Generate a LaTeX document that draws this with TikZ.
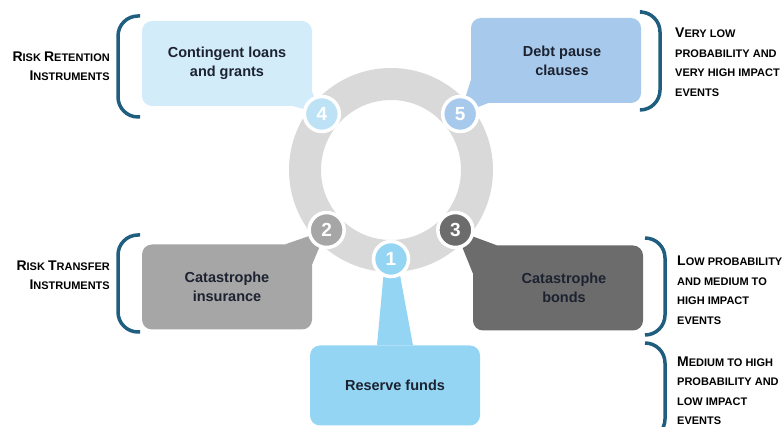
\documentclass[tikz,border=0pt]{standalone}
\usepackage{fontspec}
\setmainfont{Liberation Sans}
\usepackage{tikz}
\definecolor{MyPale}{HTML}{D3ECFA}
\definecolor{MyPaleNum}{HTML}{BDE2F6}
\definecolor{MyBlue}{HTML}{A7C9EC}
\definecolor{MySky}{HTML}{95D5F4}
\definecolor{MyGrey}{HTML}{A6A6A6}
\definecolor{MyDark}{HTML}{6C6C6C}
\definecolor{MyRing}{HTML}{D9D9D9}
\definecolor{MyTeal}{HTML}{1F5E7E}
\definecolor{MyInk}{HTML}{1C2230}
\usetikzlibrary{calc,positioning}
\newcommand\initcap[1]{{\fontsize{14}{19}\selectfont #1}}
\tikzset{%
  card/.style={rectangle, rounded corners=10pt, fill=#1, minimum width=170pt, minimum height=85pt,
    align=center, text=MyInk, font=\fontsize{14.5}{19}\selectfont\bfseries},
  num/.style={circle, fill=#1, draw=white, line width=3.5pt, minimum size=35pt, inner sep=0pt,
    text=white, font=\fontsize{19}{19}\selectfont\bfseries},
  bracket/.style={draw=MyTeal, line width=3.5pt, rounded corners=20pt},
  group/.style={align=#1, inner sep=0pt, text=black, font=\fontsize{11}{19.5}\selectfont\bfseries}
}

\begin{document}
\begin{tikzpicture}[x=1pt, y=1pt]

 \useasboundingbox (0,0) rectangle (783,427);
 \clip (0,0) rectangle (783,427);

 % ring and the stops on it
 \coordinate (ring) at (391,257);
 \draw[MyRing, line width=32pt] (ring) circle (86);

 \coordinate (p1) at ($(ring)+(270:89)$);
 \coordinate (p2) at ($(ring)+(223:88)$);
 \coordinate (p3) at ($(ring)+(317:88)$);
 \coordinate (p4) at ($(ring)+(141:89)$);
 \coordinate (p5) at ($(ring)+(39:89)$);

 % instruments
 \node[card=MyPale] (loans) at (227,363.5) {Contingent loans\\and grants};
 \node[card=MyBlue] (pause) at (556,366.5) {\hspace*{12pt}Debt pause\\\hspace*{12pt}clauses};
 \node[card=MyGrey] (insurance) at (227,140) {Catastrophe\\insurance};
 \node[card=MyDark] (bonds) at (558,139) {\hspace*{12pt}Catastrophe\\\hspace*{12pt}bonds};
 \node[card=MySky, minimum height=80pt] (reserve) at (395,41.5) {Reserve funds};

 % callout tails
 \fill[MyPale] ([xshift=-19pt]loans.south east) -- ([yshift=14pt]loans.south east) -- (p4);
 \fill[MyBlue] ([yshift=23pt]pause.south west) -- ([xshift=17pt]pause.south west) -- (p5);
 \fill[MyGrey] ([xshift=-27pt]insurance.north east) -- ([yshift=-20pt]insurance.north east) -- (p2);
 \fill[MyDark] ([xshift=24pt]bonds.north west) -- ([yshift=-28pt]bonds.north west) -- (p3);
 \fill[MySky] ([xshift=-6pt]p1) -- ([xshift=6pt]p1) -- ([xshift=18pt]reserve.north) -- ([xshift=-18pt]reserve.north);

 \node[num=MySky] (n1) at (p1) {1};
 \node[num=MyGrey] (n2) at (p2) {2};
 \node[num=MyDark] (n3) at (p3) {3};
 \node[num=MyPaleNum] (n4) at (p4) {4};
 \node[num=MyBlue] (n5) at (p5) {5};

 % brackets
 \draw[bracket] (140,411) -- (118,411) -- (118,310) -- (140,310);
 \draw[bracket] (140,192) -- (118,192) -- (118,95) -- (140,95);
 \draw[bracket] (642,415) -- (660,415) -- (660,317) -- (642,317);
 \draw[bracket] (645,189) -- (665,189) -- (665,92) -- (645,92);
 \draw[bracket] (645,84) -- (665,84) -- (665,-12) -- (645,-12);

 \node[group=right, anchor=east] (retention) at (110,361) {\initcap{R}ISK \initcap{R}ETENTION\\\initcap{I}NSTRUMENTS};
 \node[group=right, anchor=east] (transfer) at (110,152) {\initcap{R}ISK \initcap{T}RANSFER\\\initcap{I}NSTRUMENTS};

 \node[group=left, anchor=west] (rare) at (675,365) {\initcap{V}ERY LOW\\PROBABILITY AND\\VERY HIGH IMPACT\\EVENTS};
 \node[group=left, anchor=west] (severe) at (677,137) {\initcap{L}OW PROBABILITY\\AND MEDIUM TO\\HIGH IMPACT\\EVENTS};
 \node[group=left, anchor=west] (frequent) at (677,36.5) {\initcap{M}EDIUM TO HIGH\\PROBABILITY AND\\LOW IMPACT\\EVENTS};

\end{tikzpicture}
\end{document}
